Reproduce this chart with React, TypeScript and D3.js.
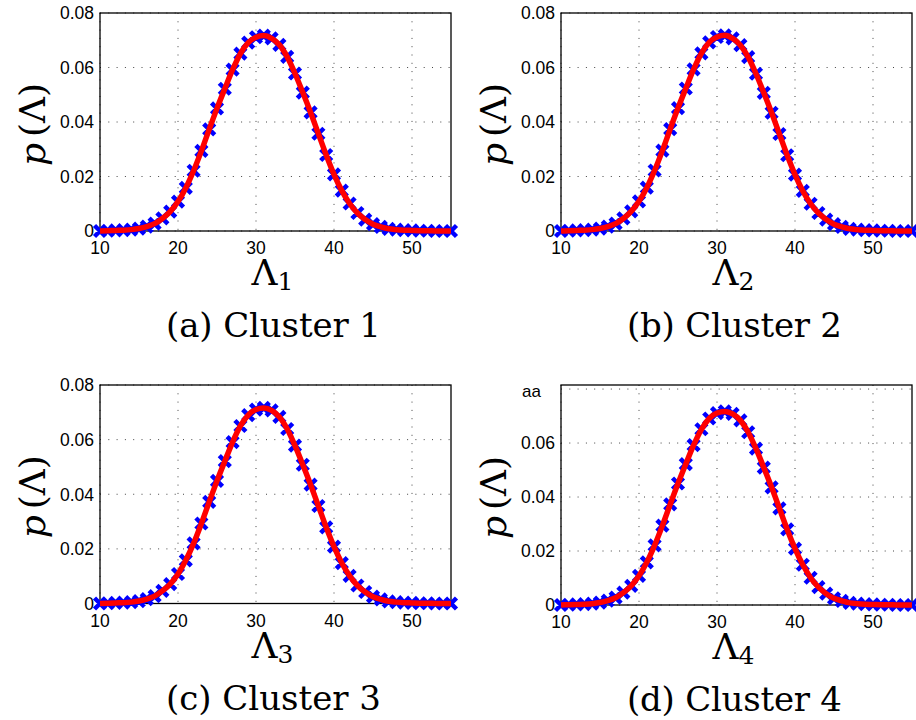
import React from "react";
import * as d3 from "d3";

// Lambda values (integer bins)
const lambdas = d3.range(10, 56);

// histogram values
const cluster1 = [0.0000, 0.0001, 0.0002, 0.0003, 0.0005, 0.0009, 0.0016, 0.0027, 0.0046, 0.0071,
  0.0108, 0.0158, 0.0221, 0.0294, 0.0373, 0.0450, 0.0522, 0.0592, 0.0651, 0.0691,
  0.0711, 0.0717, 0.0707, 0.0683, 0.0639, 0.0578, 0.0508, 0.0435, 0.0357, 0.0279,
  0.0208, 0.0148, 0.0101, 0.0066, 0.0042, 0.0025, 0.0015, 0.0008, 0.0005, 0.0003,
  0.0002, 0.0001, 0.0001, 0.0000, 0.0000, 0.0000];
const cluster2 = [0.0000, 0.0001, 0.0002, 0.0003, 0.0005, 0.0009, 0.0016, 0.0027, 0.0046, 0.0072,
  0.0109, 0.0159, 0.0222, 0.0295, 0.0374, 0.0451, 0.0523, 0.0593, 0.0652, 0.0692,
  0.0712, 0.0718, 0.0707, 0.0682, 0.0638, 0.0577, 0.0507, 0.0434, 0.0356, 0.0278,
  0.0207, 0.0147, 0.0100, 0.0066, 0.0042, 0.0025, 0.0015, 0.0008, 0.0005, 0.0003,
  0.0002, 0.0001, 0.0001, 0.0000, 0.0000, 0.0000];
const cluster3 = [0.0000, 0.0001, 0.0002, 0.0003, 0.0005, 0.0009, 0.0016, 0.0027, 0.0046, 0.0071,
  0.0108, 0.0158, 0.0220, 0.0293, 0.0372, 0.0449, 0.0521, 0.0591, 0.0650, 0.0690,
  0.0710, 0.0716, 0.0707, 0.0683, 0.0639, 0.0578, 0.0508, 0.0435, 0.0357, 0.0279,
  0.0208, 0.0148, 0.0101, 0.0066, 0.0042, 0.0025, 0.0015, 0.0008, 0.0005, 0.0003,
  0.0002, 0.0001, 0.0001, 0.0000, 0.0000, 0.0000];
const cluster4 = [0.0000, 0.0001, 0.0002, 0.0003, 0.0005, 0.0009, 0.0016, 0.0027, 0.0046, 0.0071,
  0.0108, 0.0158, 0.0221, 0.0294, 0.0373, 0.0450, 0.0522, 0.0592, 0.0651, 0.0691,
  0.0711, 0.0717, 0.0708, 0.0684, 0.0640, 0.0579, 0.0509, 0.0436, 0.0358, 0.0280,
  0.0209, 0.0149, 0.0101, 0.0066, 0.0042, 0.0025, 0.0015, 0.0008, 0.0005, 0.0003,
  0.0002, 0.0001, 0.0001, 0.0000, 0.0000, 0.0000];

const xTicks = [10, 20, 30, 40, 50];
const yTicks = [0, 0.02, 0.04, 0.06, 0.08];
const yTicks4 = [0, 0.02, 0.04, 0.06];
const subscripts = ["1", "2", "3", "4"];
const captions = ["(a) Cluster 1", "(b) Cluster 2", "(c) Cluster 3", "(d) Cluster 4"];

const panels = [
  { values: cluster1, left: 100, top: 13, bottom: 231, yMax: 0.08, ticks: yTicks },
  { values: cluster2, left: 561, top: 13, bottom: 231, yMax: 0.08, ticks: yTicks },
  { values: cluster3, left: 100, top: 385, bottom: 603.5, yMax: 0.08, ticks: yTicks },
  { values: cluster4, left: 561, top: 385, bottom: 605, yMax: 0.0815, ticks: yTicks4, note: "aa" },
];

const W = 351;
const sans = "'Liberation Sans', Arial, sans-serif";
const serif = "'DejaVu Serif', serif";

function Panel({ p, i }: { p: any; i: number }) {
  const x = d3.scaleLinear().domain([10, 55]).range([p.left, p.left + W]);
  const y = d3.scaleLinear().domain([0, p.yMax]).range([p.bottom, p.top]);
  const pts = lambdas.map((l, k) => [l, p.values[k]] as [number, number]);
  const line = d3.line<[number, number]>()
    .x(d => x(d[0]))
    .y(d => y(d[1]))
    .curve(d3.curveMonotoneX);
  const s = 5.5;
  const cx = p.left + W / 2;
  return (
    <g>
      {/* grid */}
      {xTicks.map(t => (
        <line key={"gx" + t} x1={x(t)} x2={x(t)} y1={p.top} y2={p.bottom}
          stroke="#444" strokeWidth={1} strokeDasharray="1 7.3" />
      ))}
      {yTicks.map(t => (
        <line key={"gy" + t} x1={p.left} x2={p.left + W} y1={y(t)} y2={y(t)}
          stroke="#444" strokeWidth={1} strokeDasharray="1 7.3" />
      ))}
      <rect x={p.left} y={p.top} width={W} height={p.bottom - p.top}
        fill="none" stroke="#000" strokeWidth={1.3} />
      {/* tick labels */}
      {xTicks.map(t => (
        <text key={"tx" + t} x={x(t)} y={p.bottom + 23} textAnchor="middle"
          style={{ fontFamily: sans }} fontSize={17.5} fill="#000">{t}</text>
      ))}
      {p.ticks.map((t: number) => (
        <text key={"ty" + t} x={p.left - 6} y={y(t)} dy="0.36em" textAnchor="end"
          style={{ fontFamily: sans }} fontSize={17.5} fill="#000">{t === 0 ? "0" : d3.format(".2f")(t)}</text>
      ))}
      {p.note && (
        <text x={p.left - 20} y={p.top + 12} textAnchor="end" style={{ fontFamily: sans }}
          fontSize={17} fill="#000">{p.note}</text>
      )}
      {/* markers */}
      <path
        d={pts.map(d => {
          const px = x(d[0]), py = y(d[1]);
          return `M${px - s},${py - s}L${px + s},${py + s}M${px - s},${py + s}L${px + s},${py - s}`;
        }).join("")}
        fill="none" stroke="#0000ff" strokeWidth={4.5} />
      {/* fitted curve */}
      <path d={line(pts) || ""} fill="none" stroke="#ff0000" strokeWidth={5.5}
        strokeLinejoin="round" />
      {/* axis labels */}
      <text transform={`translate(${p.left - 55},${(p.top + p.bottom) / 2 + 2.5}) rotate(-90)`}
        textAnchor="middle" style={{ fontFamily: serif }} fontSize={36} fill="#000">
        <tspan fontStyle="italic">p</tspan>
        <tspan dx={6}>(Λ)</tspan>
      </text>
      <text x={cx - 3} y={p.bottom + 54} textAnchor="middle" style={{ fontFamily: serif }} fontSize={36} fill="#000">
        Λ<tspan fontSize={25} dy={5}>{subscripts[i]}</tspan>
      </text>
      <text x={cx - 2} y={p.bottom + 106} textAnchor="middle" style={{ fontFamily: serif }} fontSize={34}
        textLength={215} lengthAdjust="spacing" fill="#000">{captions[i]}</text>
    </g>
  );
}

export default function App() {
  return (
    <svg width={916} height={720} viewBox="0 0 916 720"
      style={{ position: "absolute", left: 0, top: 0, background: "#fff" }}>
      <rect width={916} height={720} fill="#fff" />
      {panels.map((p, i) => <Panel key={i} p={p} i={i} />)}
    </svg>
  );
}
